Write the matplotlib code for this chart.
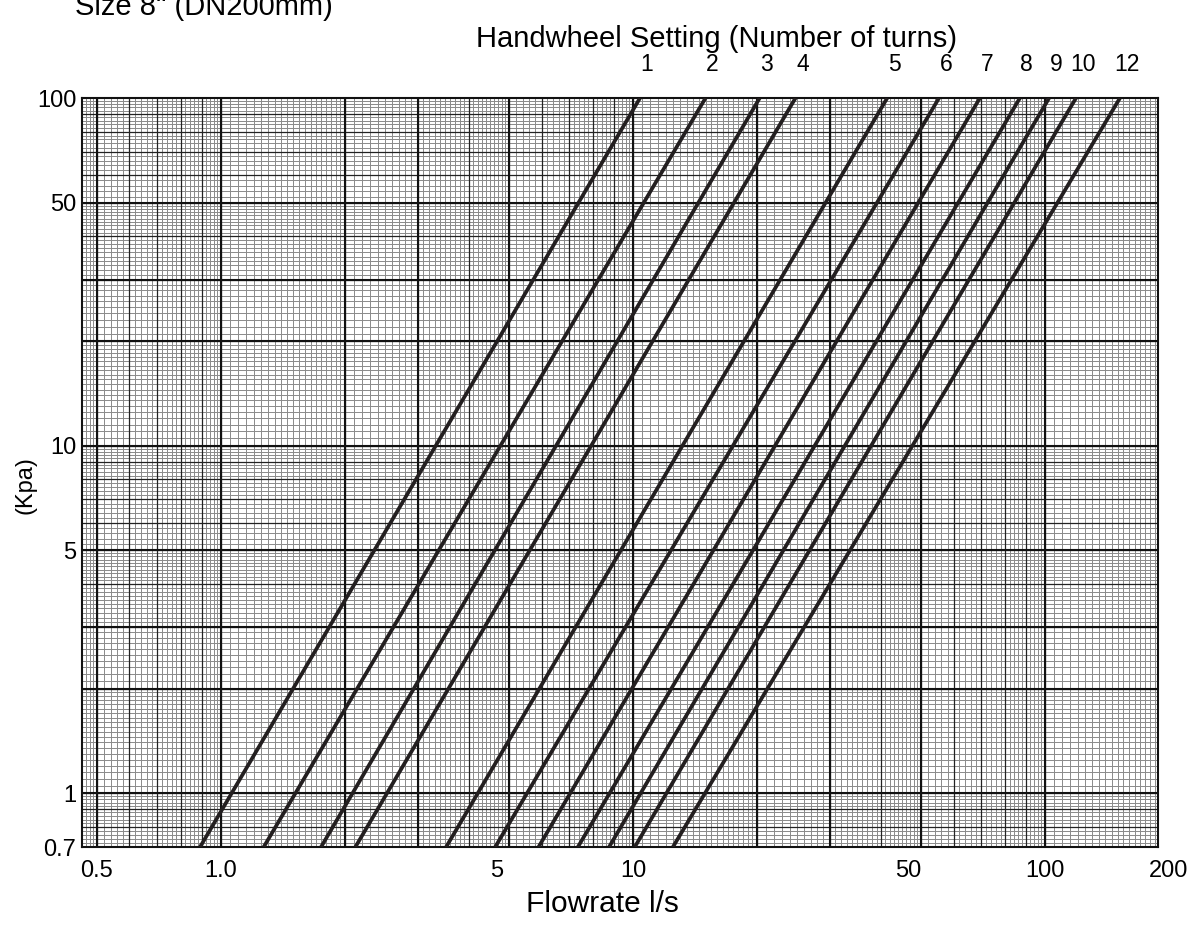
import numpy as np
import matplotlib
matplotlib.use("Agg")
from matplotlib import pyplot as plt
from matplotlib import transforms

plt.rcParams['font.family'] = ['Liberation Sans', 'DejaVu Sans']

# handwheel settings (turns) and flow at 100 kPa / 0.7 kPa
turns = ['1', '2', '3', '4', '5', '6', '7', '8', '9', '10', '12']
q_top = [10.4, 15.0, 20.3, 24.8, 41.4, 55.3, 69.5, 86.9, 102.3, 118.9, 152.0]  # l/s at 100 kPa
q_bot = [0.89, 1.27, 1.75, 2.12, 3.52, 4.63, 5.90, 7.35, 8.75, 10.1, 12.5]  # l/s at 0.7 kPa
dp_top = 100.0
dp_bot = 0.7

xticks = [0.5, 1.0, 5, 10, 50, 100, 200]
xticklabels = ['0.5', '1.0', '5', '10', '50', '100', '200']
yticks = [0.7, 1, 5, 10, 50, 100]
yticklabels = ['0.7', '1', '5', '10', '50', '100']

fig = plt.figure(figsize=(11.98, 9.40), dpi=100)
ax = fig.add_axes([0.0684, 0.0989, 0.8982, 0.7968])
ax.set_xscale('log')
ax.set_yscale('log')
ax.set_xlim(0.46, 188)
ax.set_ylim(dp_bot, dp_top)

# graph paper grid
def paper(lo, hi):
    fine, mid, heavy = [], [], []
    for dec in range(-1, 3):
        b = 10.0 ** dec
        for v in np.arange(1, 2, 0.05):
            fine.append(v * b)
        for v in np.arange(2, 5, 0.1):
            fine.append(v * b)
        for v in np.arange(5, 10, 0.2):
            fine.append(v * b)
        for v in range(1, 10):
            mid.append(v * b)
        heavy += [b, 2 * b, 3 * b, 5 * b]
    f = lambda a: [v for v in a if lo < v < hi]
    return f(fine), f(mid), f(heavy)

fx, mx, hx = paper(0.46, 188)
fy, my, hy = paper(0.7, 100)
for v in fx:
    ax.axvline(v, color='#8a8a8a', lw=0.7, zorder=1)
for v in fy:
    ax.axhline(v, color='#8a8a8a', lw=0.7, zorder=1)
for v in mx:
    ax.axvline(v, color='#222222', lw=0.9, zorder=1)
for v in my:
    ax.axhline(v, color='#222222', lw=0.9, zorder=1)
for v in hx:
    ax.axvline(v, color='#111111', lw=1.5, zorder=1)
for v in hy:
    ax.axhline(v, color='#111111', lw=1.5, zorder=1)

# valve curves
for t, qa, qb in zip(turns, q_top, q_bot):
    ax.plot([qb, qa], [dp_bot, dp_top], color='#231f20', lw=2.7, zorder=3,
            solid_capstyle='butt')
    ax.annotate(t, xy=(qa, dp_top), xytext=(5, 24), textcoords='offset points',
                ha='center', va='center', fontsize=16.5, annotation_clip=False)

ax.set_xticks([])
ax.minorticks_off()
ax.set_yticks(yticks)
ax.set_yticklabels(yticklabels, fontsize=17)
ax.tick_params(axis='y', length=0, pad=4)
ax.minorticks_off()
trans = transforms.blended_transform_factory(ax.transData, ax.transAxes)
nudge = {'5': -9, '50': -9}  # labels sit a little left of their lines in the original
for v, s in zip(xticks, xticklabels):
    ax.annotate(s, xy=(v, -0.032), xycoords=trans, xytext=(nudge.get(s, 0), 0),
                textcoords='offset points', ha='center', va='center', fontsize=17,
                annotation_clip=False)

for s in ax.spines.values():
    s.set_linewidth(1.5)
    s.set_color('#111111')

fig.text(0.021, 0.484, '(Kpa)', rotation=90, ha='center', va='center', fontsize=17)
fig.text(0.598, 0.958, 'Handwheel Setting (Number of turns)', ha='center', va='center', fontsize=21)
fig.text(0.170, 0.984, 'Size 8" (DN200mm)', ha='center', va='baseline', fontsize=21)
fig.text(0.503, 0.038, 'Flowrate l/s', ha='center', va='center', fontsize=21.5)

fig.savefig('out.png', dpi=100)
